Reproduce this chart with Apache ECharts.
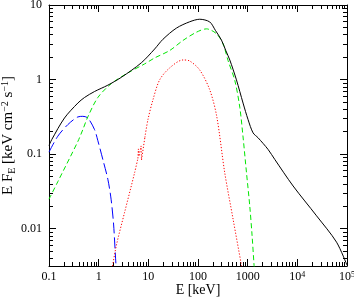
<!DOCTYPE html>
<html>
<head>
<meta charset="utf-8">
<script src="https://cdn.jsdelivr.net/npm/echarts@6/dist/echarts.min.js"></script>
<style>
  html, body { margin: 0; padding: 0; background: #fff; }
  #chart { width: 354px; height: 299px; }
</style>
</head>
<body>
<div id="chart"></div>
<script>
// everything in log10 space: lgE = log10(E / keV), lgF = log10(E F_E)
var xTickValues = [-1, 0, 1, 2, 3, 4, 5];
var xTickLabels = ['0.1', '1', '10', '100', '1000', '{b|10}{s|4}', '{b|10}{s|5}'];
var yTickValues = [-2, -1, 0, 1];
var yTickLabels = ['0.01', '0.1', '1', '10'];

// total model (black)
var totalLgE = [-1.0, -0.944, -0.688, -0.419, -0.284, -0.083, 0.185, 0.456, 0.859, 1.127, 1.294, 1.565, 1.833, 2.034, 2.236, 2.35, 2.472, 2.56, 2.64, 2.774, 2.907, 3.008, 3.109, 3.21, 3.411, 3.546, 3.915, 4.387, 4.79, 5.0];
var totalLgF = [-0.884, -0.804, -0.515, -0.315, -0.24, -0.16, -0.075, 0.03, 0.225, 0.41, 0.54, 0.69, 0.775, 0.809, 0.773, 0.66, 0.53, 0.388, 0.263, -0.004, -0.315, -0.537, -0.715, -0.781, -0.937, -1.071, -1.427, -1.827, -2.181, -2.49];

// comptonization (green dashed)
var comptLgE = [-1.0, -0.823, -0.419, -0.319, -0.218, -0.016, 0.254, 0.589, 0.925, 1.127, 1.43, 1.698, 1.968, 2.169, 2.371, 2.504, 2.605, 2.74, 2.841, 2.907, 2.976, 3.042, 3.089, 3.129, 3.15];
var comptLgF = [-1.604, -1.37, -0.83, -0.671, -0.5, -0.24, -0.055, 0.09, 0.21, 0.29, 0.39, 0.525, 0.635, 0.68, 0.615, 0.48, 0.255, -0.01, -0.37, -0.77, -1.248, -1.693, -2.093, -2.493, -2.7];

// disk blackbody (blue long dash)
var diskLgE = [-1.0, -0.823, -0.621, -0.419, -0.319, -0.218, -0.083, -0.016, 0.099, 0.185, 0.25, 0.30, 0.341, 0.36];
var diskLgF = [-0.973, -0.76, -0.604, -0.501, -0.493, -0.515, -0.671, -0.82, -1.11, -1.337, -1.604, -1.937, -2.404, -2.6];

// reflection (red dotted): rise, Fe line + edge, hump
var reflRiseLgE = [0.26, 0.355, 0.522, 0.724, 0.79];
var reflRiseLgF = [-2.58, -2.227, -1.781, -1.248, -1.057];
var reflEdgeLgE = [0.79, 0.80, 0.81, 0.855, 0.862, 0.93];
var reflEdgeLgF = [-1.057, -0.93, -1.03, -0.89, -1.08, -0.777];
var reflHumpLgE = [0.93, 0.992, 1.093, 1.228, 1.429, 1.698, 1.833, 2.034, 2.236, 2.377, 2.538, 2.706, 2.875, 2.92];
var reflHumpLgF = [-0.777, -0.537, -0.271, -0.004, 0.156, 0.263, 0.249, 0.129, -0.137, -0.493, -1.248, -1.871, -2.493, -2.67];

var xMin = -1, xMax = 5, yMin = -2.5, yMax = 1;
var serif = 'Liberation Serif, DejaVu Serif, serif';

function pairs(a, b) {
  return a.map(function (v, i) { return [v, b[i]]; });
}
function minorTicks(lo, hi) {
  var out = [];
  for (var n = Math.floor(lo); n < hi; n++) {
    for (var k = 2; k <= 9; k++) {
      var v = n + Math.log10(k);
      if (v > lo && v < hi) out.push(v);
    }
  }
  return out;
}
function labelFor(values, labels) {
  return function (v) {
    for (var i = 0; i < values.length; i++) {
      if (Math.abs(values[i] - v) < 1e-6) return labels[i];
    }
    return '';
  };
}

var lineBlack = { color: '#000', width: 1 };

function xAx(pos, ticks, len, showLine, labels) {
  return {
    type: 'value', position: pos, min: xMin, max: xMax,
    axisLine: { show: showLine, onZero: false, lineStyle: lineBlack },
    axisTick: { show: true, inside: true, length: len, customValues: ticks, lineStyle: lineBlack },
    axisLabel: labels ? {
      show: true, margin: 5, customValues: xTickValues,
      formatter: labelFor(xTickValues, xTickLabels),
      color: '#000', fontFamily: serif, fontSize: 12,
      rich: {
        b: { fontFamily: serif, fontSize: 12, color: '#000' },
        s: { fontFamily: serif, fontSize: 8, color: '#000', verticalAlign: 'top', lineHeight: 8 }
      }
    } : { show: false },
    splitLine: { show: false }
  };
}
function yAx(pos, ticks, len, showLine, labels) {
  return {
    type: 'value', position: pos, min: yMin, max: yMax,
    axisLine: { show: showLine, onZero: false, lineStyle: lineBlack },
    axisTick: { show: true, inside: true, length: len, customValues: ticks, lineStyle: lineBlack },
    axisLabel: labels ? {
      show: true, margin: 7, customValues: yTickValues,
      formatter: labelFor(yTickValues, yTickLabels),
      color: '#000', fontFamily: serif, fontSize: 12
    } : { show: false },
    splitLine: { show: false }
  };
}

var xMinor = minorTicks(xMin, xMax);
var yMinor = minorTicks(yMin, yMax);

var xAxes = [
  xAx('bottom', xTickValues, 7, true, true),
  xAx('bottom', xMinor, 4, false, false),
  xAx('top', xTickValues, 7, true, false),
  xAx('top', xMinor, 4, false, false)
];
xAxes[0].name = 'E [keV]';
xAxes[0].nameLocation = 'middle';
xAxes[0].nameGap = 16;
xAxes[0].nameMoveOverlap = false;
xAxes[0].nameTextStyle = { fontFamily: serif, fontSize: 14, color: '#000', lineHeight: 16 };

var yAxes = [
  yAx('left', yTickValues, 7, true, true),
  yAx('left', yMinor, 4, false, false),
  yAx('right', yTickValues, 7, true, false),
  yAx('right', yMinor, 4, false, false)
];
yAxes[0].name = 'E F{sub|E} [keV cm{sup|\u22122} s{sup|\u22121}]';
yAxes[0].nameLocation = 'middle';
yAxes[0].nameRotate = 90;
yAxes[0].nameGap = 32;
yAxes[0].nameMoveOverlap = false;
yAxes[0].nameTextStyle = {
  fontFamily: serif, fontSize: 15, color: '#000', lineHeight: 17,
  rich: {
    sub: { fontFamily: serif, fontSize: 10, color: '#000', verticalAlign: 'bottom', lineHeight: 11 },
    sup: { fontFamily: serif, fontSize: 10, color: '#000', verticalAlign: 'top', lineHeight: 11 }
  }
};

function curve(lgE, lgF, style, smooth, z) {
  return {
    type: 'line', xAxisIndex: 0, yAxisIndex: 0,
    data: pairs(lgE, lgF), showSymbol: false, smooth: smooth,
    clip: true, silent: true, z: z,
    lineStyle: style
  };
}

var redDot = { color: '#ff0000', width: 1, type: [1.2, 1.8] };

var chart = echarts.init(document.getElementById('chart'), null, { renderer: 'canvas' });
chart.setOption({
  animation: false,
  backgroundColor: '#fff',
  grid: { left: 49, right: 7, top: 5, bottom: 33, containLabel: false, outerBoundsMode: 'none' },
  xAxis: xAxes,
  yAxis: yAxes,
  series: [
    curve(diskLgE, diskLgF, { color: '#0000ff', width: 1, type: [11, 4] }, 0.3, 2),
    curve(comptLgE, comptLgF, { color: '#00e600', width: 1, type: [5, 3] }, 0.3, 3),
    curve(reflRiseLgE, reflRiseLgF, redDot, 0.3, 4),
    curve(reflEdgeLgE, reflEdgeLgF, redDot, false, 4),
    curve(reflHumpLgE, reflHumpLgF, redDot, 0.3, 4),
    curve(totalLgE, totalLgF, { color: '#000000', width: 1 }, 0.3, 5)
  ]
});
</script>
</body>
</html>
